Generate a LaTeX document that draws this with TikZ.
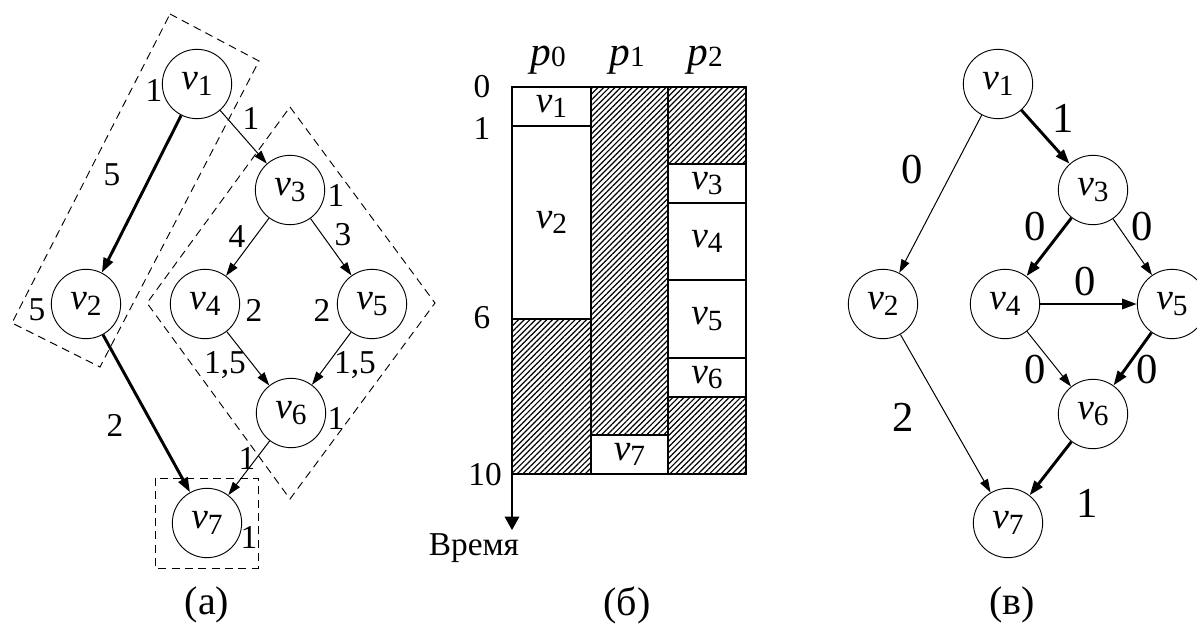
\documentclass[tikz,border=0pt]{standalone}
\usepackage{fontspec}
\setmainfont{Liberation Serif}
\usetikzlibrary{arrows.meta,patterns.meta}

\newcommand{\vtx}[1]{\textit{v}\raisebox{-4pt}{\fontsize{22}{22}\selectfont #1}}
\newcommand{\proc}[1]{\textit{p}\raisebox{-1pt}{\fontsize{22}{22}\selectfont #1}}

\tikzset{
	vert/.style={draw, circle, minimum size=52pt, inner sep=0pt, line width=0.7pt, font=\fontsize{28}{28}\selectfont},
	arc/.style={-{Triangle[length=10pt,width=6.5pt]}, line width=0.75pt},
	heavy/.style={-{Triangle[length=11pt,width=7.5pt]}, line width=2.2pt},
	wt/.style={inner sep=0pt, font=\fontsize{25}{25}\selectfont},
	bigwt/.style={inner sep=0pt, font=\fontsize{32}{32}\selectfont},
	capt/.style={inner sep=0pt, font=\fontsize{30}{30}\selectfont},
	grp/.style={dash pattern=on 6pt off 4pt, line width=0.7pt},
	hatch/.style={pattern={Lines[angle=45,distance=3pt,line width=0.9pt]}},
	box/.style={line width=0.9pt},
	slot/.style={font=\fontsize{28}{28}\selectfont},
	head/.style={font=\fontsize{31}{31}\selectfont}
}

\begin{document}
\begin{tikzpicture}[x=0.75pt, y=-0.75pt]
	\useasboundingbox (0,0) rectangle (1197,629);

	\node[vert] (a1) at (197,84) {\vtx1};
	\node[vert] (a2) at (86,304) {\vtx2};
	\node[vert] (a3) at (290,190) {\vtx3};
	\node[vert] (a4) at (205,304) {\vtx4};
	\node[vert] (a5) at (372,304) {\vtx5};
	\node[vert] (a6) at (291,413) {\vtx6};
	\node[vert] (a7) at (207,523) {\vtx7};

	\draw[heavy] (a1) -- (a2);
	\draw[heavy] (a2) -- (a7);
	\draw[arc] (a1) -- (a3);
	\draw[arc] (a3) -- (a4);
	\draw[arc] (a3) -- (a5);
	\draw[arc] (a4) -- (a6);
	\draw[arc] (a5) -- (a6);
	\draw[arc] (a6) -- (a7);

	\draw[grp] (170,14) -- (259,61) -- (100,367) -- (12,323) -- cycle;
	\draw[grp] (290,107) -- (435,303) -- (290,499) -- (147,303) -- cycle;
	\draw[grp] (155,478) rectangle (258,568);

	\node[wt] (wa1) at (154,90) {1};
	\node[wt] (wa2) at (37,310) {5};
	\node[wt] (wa3) at (336,195) {1};
	\node[wt] (wa4) at (254,310) {2};
	\node[wt] (wa5) at (322,310) {2};
	\node[wt] (wa6) at (336,418) {1};
	\node[wt] (wa7) at (249,537) {1};
	\node[wt] (la12) at (112,175) {5};
	\node[wt] (la13) at (251,118) {1};
	\node[wt] (la34) at (237,237) {4};
	\node[wt] (la35) at (343,235) {3};
	\node[wt] (la46) at (225,365) {1,5};
	\node[wt] (la56) at (355,365) {1,5};
	\node[wt] (la27) at (115,425) {2};
	\node[wt] (la67) at (247,458) {1};
	\node[capt] (capa) at (207,605) {(a)};

	\fill[hatch] (512,319) rectangle (591,474);
	\fill[hatch] (591,87) rectangle (668,435);
	\fill[hatch] (668,87) rectangle (746,164);
	\fill[hatch] (668,397) rectangle (746,474);
	\draw[box] (512,87) rectangle node[slot] (g1) {\vtx1} (591,126);
	\draw[box] (512,126) rectangle node[slot] (g2) {\vtx2} (591,319);
	\draw[box] (668,164) rectangle node[slot] (g3) {\vtx3} (746,203);
	\draw[box] (668,203) rectangle node[slot] (g4) {\vtx4} (746,280);
	\draw[box] (668,280) rectangle node[slot] (g5) {\vtx5} (746,358);
	\draw[box] (668,358) rectangle node[slot] (g6) {\vtx6} (746,397);
	\draw[box] (591,435) rectangle node[slot] (g7) {\vtx7} (668,474);
	\draw[box] (512,87) rectangle (746,474);
	\draw[box] (591,87) -- (591,474);
	\draw[box] (668,87) -- (668,474);

	\node[head] (p0) at (548,60) {\proc0};
	\node[head] (p1) at (627,60) {\proc1};
	\node[head] (p2) at (705,60) {\proc2};
	\node[wt] (t0) at (482,87) {0};
	\node[wt] (t1) at (482,128) {1};
	\node[wt] (t6) at (482,318) {6};
	\node[wt] (t10) at (485,475) {10};

	\coordinate (axis0) at (512,474);
	\coordinate (axis1) at (512,530);
	\draw[box, -{Triangle[length=10pt,width=11pt]}] (axis0) -- (axis1);
	\node[wt] (time) at (474,548) {Время};
	\node[capt] (capb) at (627,605) {(б)};

	\node[vert] (b1) at (998,84) {\vtx1};
	\node[vert] (b2) at (883,304) {\vtx2};
	\node[vert] (b3) at (1093,190) {\vtx3};
	\node[vert] (b4) at (1005,304) {\vtx4};
	\node[vert] (b5) at (1172,304) {\vtx5};
	\node[vert] (b6) at (1093,414) {\vtx6};
	\node[vert] (b7) at (1008,523) {\vtx7};

	\draw[arc] (b1) -- (b2);
	\draw[heavy] (b1) -- (b3);
	\draw[heavy] (b3) -- (b4);
	\draw[arc] (b3) -- (b5);
	\draw[heavy] (b4) -- (b5);
	\draw[arc] (b4) -- (b6);
	\draw[heavy] (b5) -- (b6);
	\draw[arc] (b2) -- (b7);
	\draw[heavy] (b6) -- (b7);

	\node[bigwt] (lb13) at (1063,118) {1};
	\node[bigwt] (lb12) at (912,170) {0};
	\node[bigwt] (lb34) at (1035,227) {0};
	\node[bigwt] (lb35) at (1142,227) {0};
	\node[bigwt] (lb45) at (1085,282) {0};
	\node[bigwt] (lb46) at (1035,370) {0};
	\node[bigwt] (lb56) at (1147,370) {0};
	\node[bigwt] (lb27) at (903,417) {2};
	\node[bigwt] (lb67) at (1087,503) {1};
	\node[capt] (capc) at (1012,605) {(в)};
\end{tikzpicture}
\end{document}
